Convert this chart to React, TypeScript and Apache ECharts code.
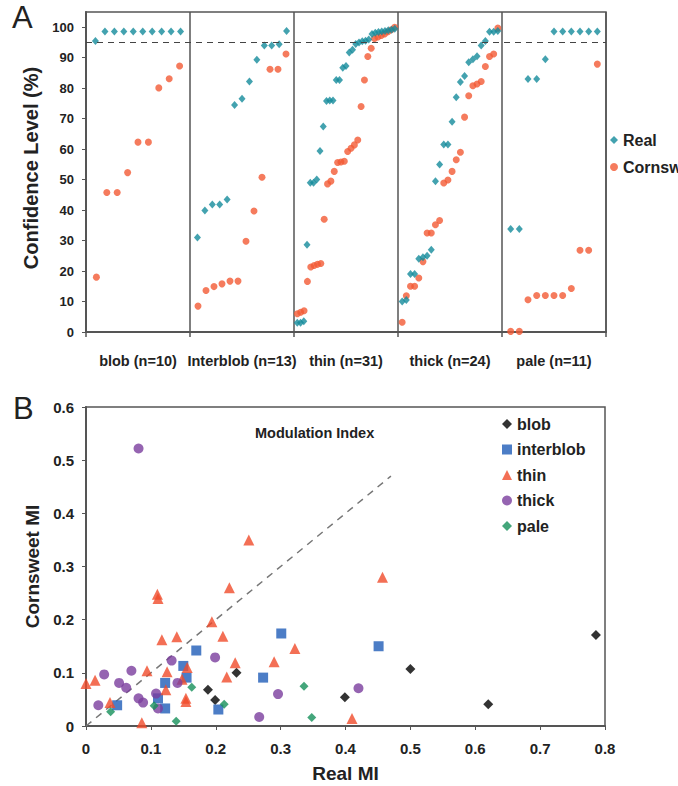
import React, { useEffect, useRef } from "react";
import * as echarts from "echarts";

// ---------- Panel A data ----------
const groupLabels = ["blob (n=10)", "Interblob (n=13)", "thin (n=31)", "thick (n=24)", "pale (n=11)"];

const realBlob = [95.5, 98.6, 98.6, 98.6, 98.6, 98.6, 98.6, 98.6, 98.6, 98.6];
const cornBlob = [18, 45.8, 45.8, 52.3, 62.3, 62.3, 80.1, 83.1, 87.3];

const realInterblob = [31, 39.9, 41.8, 41.8, 43.5, 74.5, 76.5, 82.2, 89.3, 94, 94, 94.4, 98.8];
const cornInterblob = [8.5, 13.6, 14.9, 15.8, 16.7, 16.7, 29.8, 39.7, 50.8, 86.2, 86.2, 91.2];

const realThin = [3, 3, 3.5, 28.6, 49, 49, 50, 59.4, 67.4, 75.8, 76, 76, 82.7, 82.7, 86.7, 87.3, 91.7, 92.6, 94.5, 95, 95.4, 95.6, 96, 97.8, 98.2, 98.4, 98.6, 98.8, 99, 99.2, 99.5];
const cornThin = [6, 6.5, 7, 16.6, 21.3, 21.8, 22.2, 22.5, 37, 48.6, 49.5, 52.7, 55.6, 55.8, 56, 59.2, 60.3, 61.4, 63, 74, 82.7, 90.4, 93.1, 96.3, 96.8, 97.3, 97.8, 98.5, 99.2, 100];

const realThick = [10, 10.5, 19, 19, 24, 24.5, 25, 27, 49.5, 55, 61.5, 61.5, 69, 77, 82, 84, 88.5, 89.5, 90.5, 94, 95.5, 98.5, 98.5, 98.8];
const cornThick = [3.2, 11.9, 15, 15, 17.7, 23.1, 32.5, 32.5, 35.2, 36.6, 48.9, 49.9, 52.7, 56.5, 59, 70.5, 77.5, 80.8, 81.4, 82.2, 87.1, 90.4, 91.2, 99.7];

const realPale = [33.8, 33.8, 83, 83, 89.5, 98.6, 98.6, 98.6, 98.6, 98.6, 98.6];
const cornPale = [0.2, 0.2, 10.6, 12, 12, 12, 12, 14.3, 26.8, 26.8, 87.9];

const realGroups = [realBlob, realInterblob, realThin, realThick, realPale];
const cornGroups = [cornBlob, cornInterblob, cornThin, cornThick, cornPale];

const yTicksA = { min: 0, max: 105, interval: 10 };
const thresholdA = 95;

// ---------- Panel B data: [Real MI, Cornsweet MI] ----------
const blobMI = [[0.188, 0.068], [0.199, 0.049], [0.232, 0.1], [0.399, 0.054], [0.5, 0.107], [0.62, 0.041], [0.786, 0.171]];
const interblobMI = [[0.048, 0.039], [0.122, 0.081], [0.122, 0.033], [0.111, 0.052], [0.15, 0.113], [0.155, 0.091], [0.17, 0.142], [0.204, 0.031], [0.273, 0.091], [0.301, 0.174], [0.451, 0.15]];
const thinMI = [[0.11, 0.248], [0.111, 0.24], [0.221, 0.26], [0.194, 0.196], [0.117, 0.162], [0.14, 0.168], [0.211, 0.169], [0.322, 0.146], [0.23, 0.119], [0.29, 0.121], [0.094, 0.104], [0.125, 0.102], [0.156, 0.11], [0.148, 0.088], [0.217, 0.092], [0.123, 0.068], [0.154, 0.052], [0.154, 0.046], [0.037, 0.044], [0.014, 0.086], [0.0, 0.08], [0.086, 0.006], [0.251, 0.35], [0.457, 0.28], [0.41, 0.014]];
const thickMI = [[0.081, 0.522], [0.028, 0.097], [0.019, 0.039], [0.051, 0.081], [0.062, 0.072], [0.07, 0.104], [0.081, 0.052], [0.088, 0.044], [0.108, 0.061], [0.111, 0.033], [0.132, 0.123], [0.141, 0.081], [0.199, 0.129], [0.267, 0.017], [0.296, 0.06], [0.42, 0.071]];
const paleMI = [[0.038, 0.027], [0.105, 0.038], [0.139, 0.009], [0.163, 0.073], [0.213, 0.041], [0.336, 0.075], [0.348, 0.016]];
const unityLine = [[0, 0], [0.47, 0.47]];

const TEAL = "#148b9b";
const ORANGE = "#f25a34";
const AXIS = "#555";
const TXT = "#222";
const FONT = "'Liberation Sans', Arial, sans-serif";

function toGroupPoints(groups: number[][]) {
  const pts: number[][] = [];
  groups.forEach((vals, g) => {
    vals.forEach((v, i) => pts.push([g + (i + 1) / (vals.length + 1), v]));
  });
  return pts;
}

export default function App() {
  const ref = useRef<HTMLDivElement>(null);
  useEffect(() => {
    if (!ref.current) return;
    const chart = echarts.init(ref.current, undefined, { renderer: "svg" });
    const tickLabel = { color: TXT, fontFamily: FONT, fontWeight: "bold" as const };
    const axisLine = { show: true, lineStyle: { color: AXIS, width: 2 } };
    chart.setOption({
      animation: false,
      backgroundColor: "#fff",
      textStyle: { fontFamily: FONT },
      title: [
        { text: "A", left: 12, top: 2, padding: 0, textStyle: { fontSize: 31, fontWeight: "normal", color: TXT, fontFamily: FONT } },
        { text: "B", left: 13, top: 393, padding: 0, textStyle: { fontSize: 31, fontWeight: "normal", color: TXT, fontFamily: FONT } },
        { text: "Modulation Index", left: 255, top: 425, padding: 0, textStyle: { fontSize: 14.5, fontWeight: "bold", color: TXT, fontFamily: FONT } },
      ],
      legend: [
        {
          data: ["Real", "Cornsweet"], orient: "vertical", left: 610, top: 132, padding: 0,
          itemWidth: 8, itemHeight: 8, itemGap: 11,
          textStyle: { fontSize: 16, fontWeight: "bold", color: TXT, fontFamily: FONT },
        },
        {
          data: ["blob", "interblob", "thin", "thick", "pale"], orient: "vertical", left: 502, top: 416, padding: 0,
          itemWidth: 10, itemHeight: 10, itemGap: 9.5,
          textStyle: { fontSize: 16, fontWeight: "bold", color: TXT, fontFamily: FONT },
        },
      ],
      grid: [
        { left: 86, top: 12, width: 520, height: 320, show: true, borderColor: AXIS, borderWidth: 1.5, backgroundColor: "transparent" },
        { left: 86, top: 407, width: 519, height: 319, show: true, borderColor: AXIS, borderWidth: 1.5, backgroundColor: "transparent" },
      ],
      xAxis: [
        {
          type: "category", gridIndex: 0, data: groupLabels, boundaryGap: true,
          axisLine, axisTick: { show: true, length: 5, lineStyle: { color: AXIS, width: 1.5 } },
          splitLine: { show: true, interval: 0, lineStyle: { color: AXIS, width: 1.5 } },
          axisLabel: { ...tickLabel, interval: 0, fontSize: 14.5, margin: 21 },
        },
        { type: "value", gridIndex: 0, min: 0, max: 5, show: false },
        {
          type: "value", gridIndex: 1, min: 0, max: 0.8, interval: 0.1,
          name: "Real MI", nameLocation: "middle", nameGap: 38,
          nameTextStyle: { fontSize: 19, fontWeight: "bold", color: TXT, fontFamily: FONT },
          axisLine, axisTick: { show: true, length: 4, lineStyle: { color: AXIS } },
          splitLine: { show: false },
          axisLabel: { ...tickLabel, fontSize: 15, margin: 15 },
        },
      ],
      yAxis: [
        {
          type: "value", gridIndex: 0, ...yTicksA,
          name: "Confidence Level (%)", nameLocation: "middle", nameGap: 40, nameRotate: 90,
          nameTextStyle: { fontSize: 20, fontWeight: "bold", color: TXT, fontFamily: FONT, padding: [0, 0, 0, 8] },
          axisLine, axisTick: { show: true, length: 4, lineStyle: { color: AXIS } },
          splitLine: { show: false },
          axisLabel: { ...tickLabel, fontSize: 13, margin: 12, showMaxLabel: false },
        },
        {
          type: "value", gridIndex: 1, min: 0, max: 0.6, interval: 0.1,
          name: "Cornsweet MI", nameLocation: "middle", nameGap: 40,
          nameTextStyle: { fontSize: 19, fontWeight: "bold", color: TXT, fontFamily: FONT },
          axisLine, axisTick: { show: true, length: 4, lineStyle: { color: AXIS } },
          splitLine: { show: false },
          axisLabel: { ...tickLabel, fontSize: 15, margin: 12 },
        },
      ],
      series: [
        {
          name: "Real", type: "scatter", xAxisIndex: 1, yAxisIndex: 0,
          symbol: "diamond", symbolSize: [7, 8], itemStyle: { color: TEAL },
          data: toGroupPoints(realGroups), z: 3,
          markLine: {
            silent: true, symbol: "none", label: { show: false },
            lineStyle: { color: "#444", type: [6, 5], width: 1.2 },
            data: [{ yAxis: thresholdA }],
          },
        },
        {
          name: "Cornsweet", type: "scatter", xAxisIndex: 1, yAxisIndex: 0,
          symbol: "circle", symbolSize: 7, itemStyle: { color: ORANGE },
          data: toGroupPoints(cornGroups), z: 2,
        },
        {
          name: "unity", type: "line", xAxisIndex: 2, yAxisIndex: 1, data: unityLine,
          symbol: "none", silent: true, lineStyle: { color: "#777", type: [7, 6], width: 1.5 }, z: 1,
        },
        { name: "blob", type: "scatter", xAxisIndex: 2, yAxisIndex: 1, symbol: "diamond", symbolSize: 10, itemStyle: { color: "#000" }, data: blobMI },
        { name: "interblob", type: "scatter", xAxisIndex: 2, yAxisIndex: 1, symbol: "rect", symbolSize: 10, itemStyle: { color: "#1f5cb8" }, data: interblobMI },
        { name: "thin", type: "scatter", xAxisIndex: 2, yAxisIndex: 1, symbol: "triangle", symbolSize: 11, itemStyle: { color: "#f04b2b" }, data: thinMI },
        { name: "thick", type: "scatter", xAxisIndex: 2, yAxisIndex: 1, symbol: "circle", symbolSize: 10, itemStyle: { color: "#7a3d9e" }, data: thickMI },
        { name: "pale", type: "scatter", xAxisIndex: 2, yAxisIndex: 1, symbol: "diamond", symbolSize: 9, itemStyle: { color: "#15905a" }, data: paleMI },
      ],
    });
    return () => chart.dispose();
  }, []);
  return <div ref={ref} style={{ position: "absolute", left: 0, top: 0, width: 678, height: 786 }} />;
}
